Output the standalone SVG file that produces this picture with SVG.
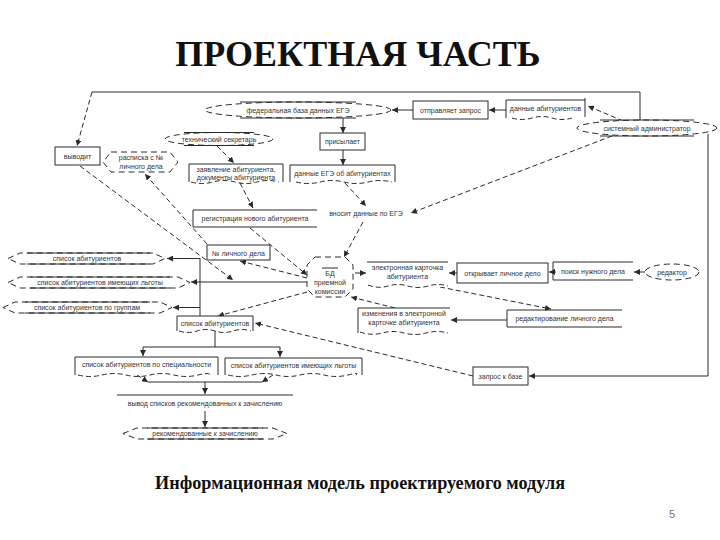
<svg xmlns="http://www.w3.org/2000/svg" width="720" height="540" viewBox="0 0 720 540">
<style>
.t{font-family:"Liberation Sans",Arial,sans-serif;font-size:7px;fill:#333;text-anchor:middle}
.s{fill:none;stroke:#2a2a2a;stroke-width:1}
.d{fill:none;stroke:#2a2a2a;stroke-width:1;stroke-dasharray:5 3}
.w{fill:#fff;stroke:#2a2a2a;stroke-width:1}
.wd{fill:#fff;stroke:#2a2a2a;stroke-width:1;stroke-dasharray:6 4}
.title{font-family:"Liberation Serif","Times New Roman",serif;font-weight:bold;fill:#111;text-anchor:middle}
</style>
<defs>
<marker id="ar" markerWidth="6" markerHeight="6" refX="6" refY="3" orient="auto" markerUnits="userSpaceOnUse">
<path d="M0,0 L6,3 L0,6 Z" fill="#2a2a2a"/>
</marker>
</defs>
<rect width="720" height="540" fill="#fff"/>
<text class="title" x="358" y="66" font-size="36">ПРОЕКТНАЯ ЧАСТЬ</text>
<text class="title" x="360" y="489" font-size="18.5" textLength="410" lengthAdjust="spacingAndGlyphs">Информационная модель проектируемого модуля</text>
<text x="672" y="518" font-family="Liberation Sans,Arial,sans-serif" font-size="11" fill="#777" text-anchor="middle">5</text>

<g id="connectors">
<path class="s" d="M640,120 V92 H92"/>
<path class="d" d="M92,92 L77,146" marker-end="url(#ar)"/>
<path class="s" d="M413,110 H392" marker-end="url(#ar)"/>
<path class="s" d="M506,110 H489" marker-end="url(#ar)"/>
<path class="d" d="M623,121 L588,106" marker-end="url(#ar)"/>
<path class="s" d="M343,118 V133" marker-end="url(#ar)"/>
<path class="s" d="M343,150 V165" marker-end="url(#ar)"/>
<path class="d" d="M345,183 L366,206" marker-end="url(#ar)"/>
<path class="d" d="M612,136 L411,213" marker-end="url(#ar)"/>
<path class="d" d="M363,222 L344,257" marker-end="url(#ar)"/>
<path class="d" d="M217,146 L234,163" marker-end="url(#ar)"/>
<path class="d" d="M240,183 L253,208" marker-end="url(#ar)"/>
<path class="d" d="M250,228 L307,275" marker-end="url(#ar)"/>
<path class="d" d="M307,278 L240,261" marker-end="url(#ar)"/>
<path class="d" d="M207,244 L145,174" marker-end="url(#ar)"/>
<path class="d" d="M80,166 L233,280" marker-end="url(#ar)"/>
<path class="s" d="M307,282 H191" marker-end="url(#ar)"/>
<path class="s" d="M200,258 V316"/>
<path class="s" d="M200,258.5 H167" marker-end="url(#ar)"/>
<path class="s" d="M200,307.5 H173" marker-end="url(#ar)"/>
<path class="d" d="M307,292 L218,316" marker-end="url(#ar)"/>
<path class="d" d="M473,376 L255,323" marker-end="url(#ar)"/>
<path class="s" d="M215,331 V347 M143,347 H280"/>
<path class="s" d="M143,347 V356" marker-end="url(#ar)"/>
<path class="s" d="M280,347 V357" marker-end="url(#ar)"/>
<path class="d" d="M137,375 L148,382" marker-end="url(#ar)"/>
<path class="d" d="M273,375 L262,382" marker-end="url(#ar)"/>
<path class="s" d="M148,382 H262"/>
<path class="s" d="M205,382 V394" marker-end="url(#ar)"/>
<path class="s" d="M205,411 V427" marker-end="url(#ar)"/>
<path class="s" d="M355,273 H366" marker-end="url(#ar)"/>
<path class="s" d="M457,273 H449" marker-end="url(#ar)"/>
<path class="s" d="M556,272 H549" marker-end="url(#ar)"/>
<path class="d" d="M645,272 H634" marker-end="url(#ar)"/>
<path class="d" d="M440,287 L551,309" marker-end="url(#ar)"/>
<path class="s" d="M507,320 H451" marker-end="url(#ar)"/>
<path class="d" d="M395,308 L351,297" marker-end="url(#ar)"/>
<path class="s" d="M708,134 V376 H529" marker-end="url(#ar)"/>
</g>

<g id="fed-db">
<ellipse class="wd" cx="298" cy="110" rx="93" ry="8"/>
<path class="s" d="M240,102 H356 M240,118 H356"/>
<text class="t" x="298" y="112.5">федеральная база данных ЕГЭ</text>
</g>
<g id="send-request">
<rect class="w" x="413" y="101" width="75" height="18"/>
<text class="t" x="450.5" y="112.5">отправляет запрос</text>
</g>
<g id="applicant-data">
<rect x="506" y="99" width="79" height="19" fill="#fff"/>
<path class="s" d="M506,100 H585 M506,100 V118 M585,98 V117"/>
<path class="d" d="M512,118 q10,3 20,0 t20,0 t20,0"/>
<text class="t" x="545.5" y="111">данные абитуриентов</text>
</g>
<g id="sysadmin">
<ellipse class="wd" cx="647" cy="128" rx="70" ry="8"/>
<path class="s" d="M600,120 H694 M600,136 H694"/>
<text class="t" x="647" y="130.5">системный администратор</text>
</g>
<g id="sends">
<rect class="w" x="320" y="133" width="45" height="17"/>
<text class="t" x="342.5" y="144">присылает</text>
</g>
<g id="ege-data">
<rect x="290" y="165" width="105" height="17" fill="#fff"/>
<path class="s" d="M290,165 H395 M290,165 V182 M395,165 V182"/>
<path class="d" d="M296,182 q12,3 24,0 t24,0 t24,0 t24,0"/>
<text class="t" x="342.5" y="175.5">данные ЕГЭ об абитуриентах</text>
</g>
<g id="enter-ege">
<text class="t" x="366" y="215.5">вносит данные по ЕГЭ</text>
</g>
<g id="tech-secretary">
<ellipse class="wd" cx="219" cy="139" rx="54" ry="6.5"/>
<path class="s" d="M184,132.5 H254 M184,145.5 H254"/>
<text class="t" x="219" y="141.5">технический секретарь</text>
</g>
<g id="application">
<rect x="189" y="164" width="94" height="18" fill="#fff"/>
<path class="s" d="M189,164 H283 M189,164 V182 M283,164 V182"/>
<path class="d" d="M191,182 q11,3 22,0 t22,0 t22,0 t22,0"/>
<text class="t" x="236" y="171.5">заявление абитуриента,</text>
<text class="t" x="236" y="179.5">документы абитуриента</text>
</g>
<g id="registration">
<path class="s" d="M317,210 H193 V227 H317"/>
<text class="t" x="255" y="221">регистрация нового абитуриента</text>
</g>
<g id="outputs">
<rect class="w" x="55" y="147" width="45" height="18"/>
<text class="t" x="77.5" y="158.5">выводит</text>
</g>
<g id="receipt">
<path class="wd" d="M111,152 H170 L178,162 L170,172 H111 L103,162 Z"/>
<text class="t" x="141" y="160">расписка с №</text>
<text class="t" x="141" y="169">личного дела</text>
</g>
<g id="file-number">
<rect class="w" x="207" y="245" width="63" height="15"/>
<text class="t" x="238.5" y="255.5">№ личного дела</text>
</g>
<g id="admission-db">
<path class="wd" d="M315,257 H345 L353,265 V289 L345,297 H315 L307,289 V265 Z"/>
<path class="s" d="M322,268 H338"/>
<text class="t" x="330" y="276">БД</text>
<text class="t" x="330" y="285">приемной</text>
<text class="t" x="330" y="294">комиссии</text>
</g>
<g id="list-all">
<path class="wd" d="M8,258.5 L20,253 H153 L165,258.5 L153,264 H20 Z"/>
<path class="s" d="M27,253 H150 M27,264 H150"/>
<text class="t" x="87" y="261">список абитуриентов</text>
</g>
<g id="list-benefits">
<path class="wd" d="M8,282.5 L20,277 H178 L190,282.5 L178,288 H20 Z"/>
<path class="s" d="M30,277 H170 M30,288 H170"/>
<text class="t" x="100" y="285">список абитуриентов имеющих льготы</text>
</g>
<g id="list-groups">
<path class="wd" d="M3,307.5 L15,302 H160 L172,307.5 L160,313 H15 Z"/>
<path class="s" d="M25,302 H150 M25,313 H150"/>
<text class="t" x="87" y="310">список абитуриентов по группам</text>
</g>
<g id="list-middle">
<rect x="177" y="316" width="76" height="15" fill="#fff"/>
<path class="s" d="M177,316 H253 M177,316 V331 M253,316 V331"/>
<path class="d" d="M179,331 q9,3 18,0 t18,0 t18,0 t18,0"/>
<text class="t" x="215" y="326">список абитуриентов</text>
</g>
<g id="list-specialty">
<rect x="75" y="357" width="143" height="18" fill="#fff"/>
<path class="s" d="M75,357 H218 M75,357 V375 M218,357 V375"/>
<path class="d" d="M78,375 q12,3 24,0 t24,0 t24,0 t24,0 t24,0 t12,0"/>
<text class="t" x="146.5" y="367">список абитуриентов по специальности</text>
</g>
<g id="list-benefits-2">
<rect x="225" y="358" width="137" height="17" fill="#fff"/>
<path class="s" d="M225,358 H362 M225,358 V375 M362,358 V375"/>
<path class="d" d="M228,375 q12,3 24,0 t24,0 t24,0 t24,0 t24,0 t8,0"/>
<text class="t" x="293.5" y="367.5">список абитуриентов имеющих льготы</text>
</g>
<g id="output-recommended">
<path class="s" d="M117,395 H293"/>
<text class="t" x="205" y="406">вывод списков рекомендованных к зачислению</text>
</g>
<g id="recommended">
<path class="wd" d="M123,433.5 L137,428 H273 L287,433.5 L273,439 H137 Z"/>
<path class="s" d="M147,428 H263 M147,439 H263"/>
<text class="t" x="205" y="436">рекомендованные к зачислению</text>
</g>
<g id="e-card">
<rect x="367" y="262" width="81" height="25" fill="#fff"/>
<path class="s" d="M367,262 H448"/>
<path class="d" d="M368,285 q10,4 20,1 t20,0 t20,0 t20,0"/>
<text class="t" x="407.5" y="270">электронная карточка</text>
<text class="t" x="407.5" y="279">абитуриента</text>
</g>
<g id="open-file">
<rect class="w" x="457" y="263" width="91" height="20"/>
<text class="t" x="502.5" y="275.5">открывает личное дело</text>
</g>
<g id="search-file">
<path class="s" d="M633,262 H553 V280 H633"/>
<text class="t" x="593" y="273.5">поиск нужного дела</text>
</g>
<g id="editor">
<ellipse class="wd" cx="672" cy="272" rx="27" ry="8"/>
<text class="t" x="672" y="274.5">редактор</text>
</g>
<g id="edit-file">
<path class="s" d="M622,310 H507 V327 H622"/>
<text class="t" x="564.5" y="321">редактирование личного дела</text>
</g>
<g id="card-changes">
<rect x="358" y="308" width="92" height="24" fill="#fff"/>
<path class="s" d="M450,308 H358 V333"/>
<path class="d" d="M360,332 q11,4 22,1 t22,0 t22,0 t22,0"/>
<text class="t" x="404" y="315.5">изменения в электронной</text>
<text class="t" x="404" y="324.5">карточке абитуриента</text>
</g>
<g id="query">
<rect class="w" x="473" y="367" width="55" height="18"/>
<text class="t" x="500.5" y="378.5">запрос к базе</text>
</g>
</svg>
